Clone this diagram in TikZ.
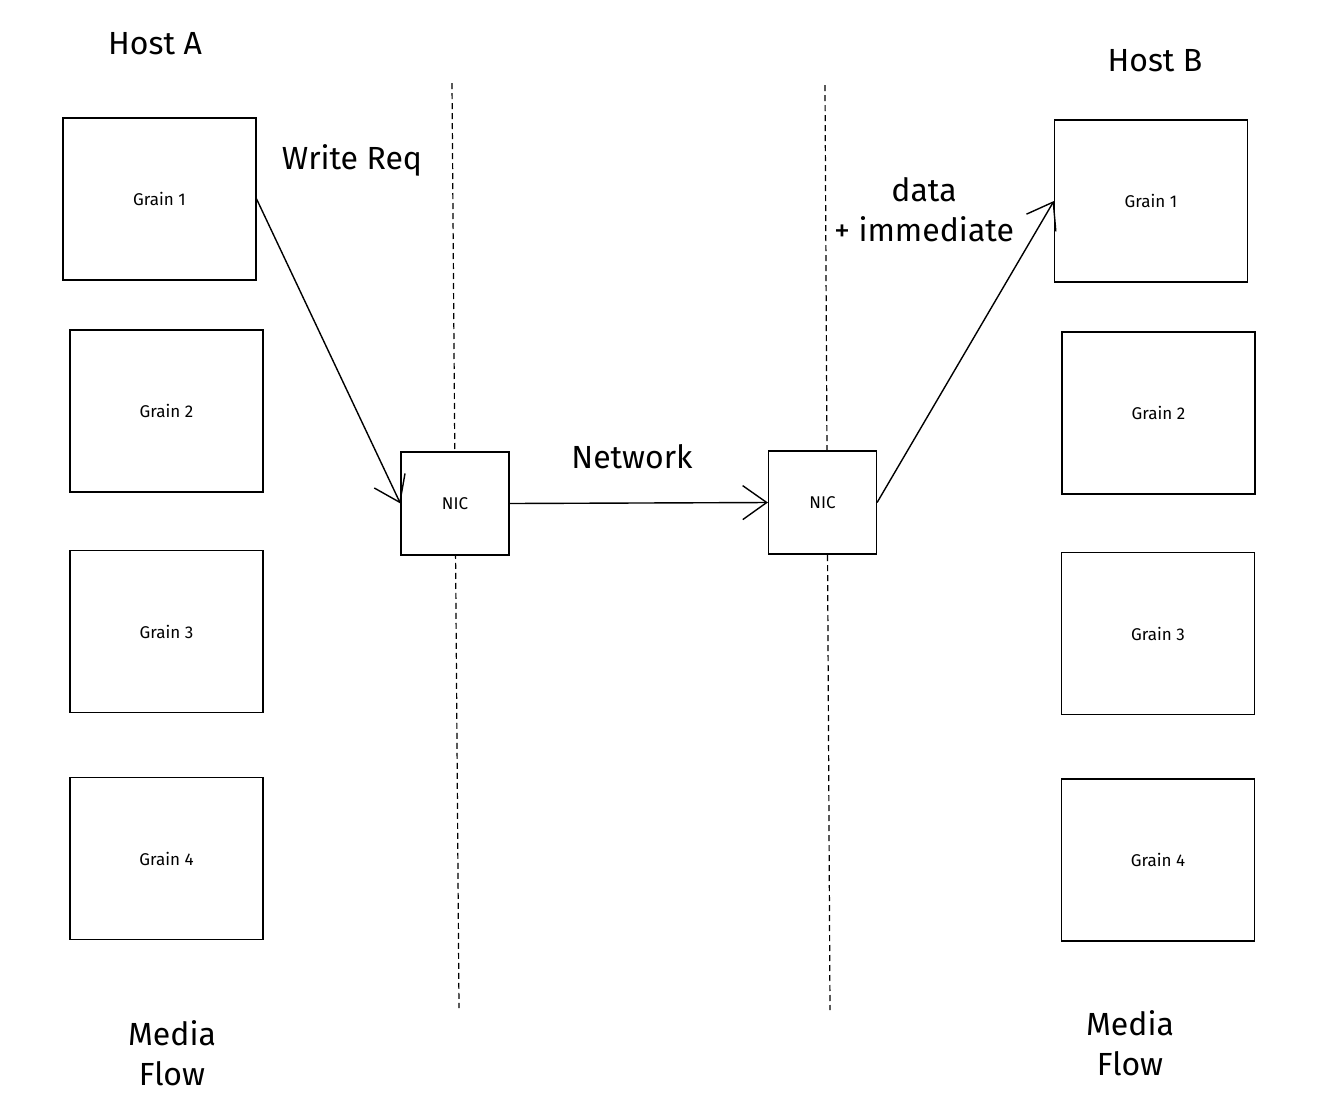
\documentclass[tikz,border=0pt]{standalone}
\usepackage{fontspec}
\setmainfont{Fira Sans}
\usepackage{tikz}
\usetikzlibrary{arrows.meta}

\begin{document}
\begin{tikzpicture}[x=1pt,y=-1pt,
        grain/.style={draw=black, line width=1.2pt, minimum width=193pt, minimum height=162pt, font=\fontsize{17}{20}\selectfont},
        nicbox/.style={draw=black, fill=white, line width=1.2pt, minimum width=108pt, minimum height=103pt, font=\fontsize{17}{20}\selectfont},
        label/.style={font=\fontsize{32}{40}\selectfont, align=center},
        flow/.style={line width=1.4pt, -{Straight Barb[length=24pt,width=34pt]}},
        wall/.style={line width=1.2pt, dashed, dash pattern=on 6pt off 4pt}]

        \useasboundingbox (0,0) rectangle (1336,1112);

        % separators
        \coordinate (wallAtop) at (452,83);
        \coordinate (wallAbot) at (459,1008);
        \coordinate (wallBtop) at (825,85);
        \coordinate (wallBbot) at (830,1010);
        \draw [wall] (wallAtop) -- (wallAbot);
        \draw [wall] (wallBtop) -- (wallBbot);

        % host A
        \node [grain] (a1) at (159.5,199) {Grain 1};
        \node [grain] (a2) at (166.5,411) {Grain 2};
        \node [grain] (a3) at (166.5,631.5) {Grain 3};
        \node [grain] (a4) at (166.5,858.5) {Grain 4};

        % host B
        \node [grain] (b1) at (1151,201) {Grain 1};
        \node [grain] (b2) at (1158.5,413) {Grain 2};
        \node [grain] (b3) at (1158,633.5) {Grain 3};
        \node [grain] (b4) at (1158,860) {Grain 4};

        % network cards
        \node [nicbox] (nicA) at (455,503.5) {NIC};
        \node [nicbox] (nicB) at (822.5,502.5) {NIC};

        % labels
        \node [label] (hostA) at (155,44) {Host A};
        \node [label] (hostB) at (1155,61) {Host B};
        \node [label] (writereq) at (352,160) {Write Req};
        \node [label] (network) at (632,457) {Network};
        \node [label] (imm) at (924,210) {data\\+ immediate};
        \node [label] (mediaA) at (172,1053) {Media\\Flow};
        \node [label] (mediaB) at (1130,1043) {Media\\Flow};

        % arrows
        \draw [flow] (a1.east) -- (nicA.west);
        \draw [flow] (nicA.east) -- (nicB.west);
        \draw [flow] (nicB.east) -- (b1.west);

\end{tikzpicture}
\end{document}
